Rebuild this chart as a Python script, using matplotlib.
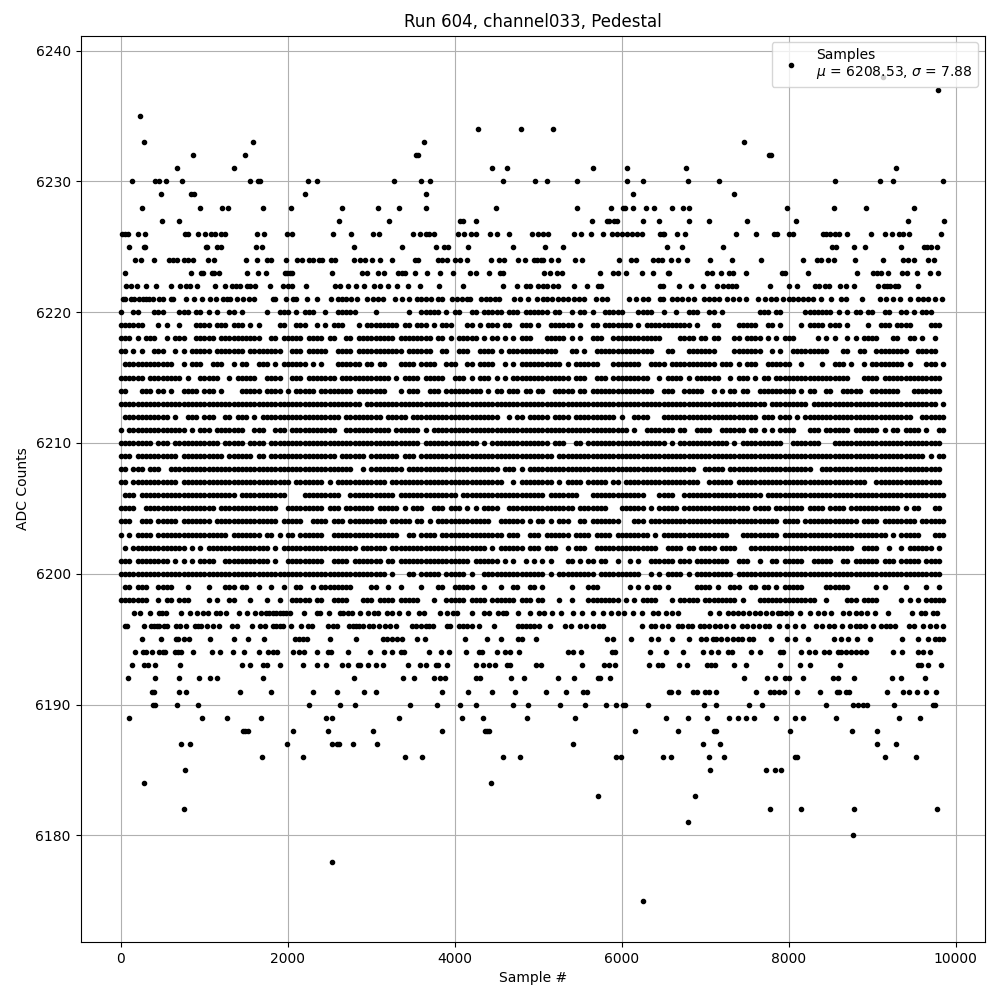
import matplotlib
matplotlib.use("Agg")
import matplotlib.pyplot as plt

TITLE = "Run 604, channel033, Pedestal"
XLABEL = "Sample #"
YLABEL = "ADC Counts"
LEGEND = "Samples\n$\\mu$ = 6208.53, $\\sigma$ = 7.88"
CELL = 50  # samples per character in the occupancy rows below

# Sparse levels: sample numbers, per ADC level
sparse_high = {
    6238: [9128],
    6237: [9788],
    6235: [224],
    6234: [4272, 4788, 5172],
    6233: [272, 1580, 3636, 7460],
    6232: [860, 1484, 3540, 3564, 7760, 7784],
    6231: [668, 1352, 4440, 4620, 5652, 6060, 6764, 9284],
    6230: [128, 404, 452, 536, 728, 1544, 1640, 1664, 2240, 2348, 3276, 3600, 3708, 4572, 4956, 5100, 5460, 6060, 6252, 6788, 7160, 8552, 9092, 9248, 9848],
    6229: [476, 836, 872, 2204, 3660, 6132, 7340],
    6228: [248, 944, 1208, 1280, 1700, 2036, 2648, 3080, 3336, 3660, 4488, 5460, 5868, 6012, 6036, 6132, 6288, 6384, 6596, 6728, 6800, 7976, 8540, 8924, 9500],
    6227: [488, 692, 2612, 3216, 4068, 4092, 4248, 5640, 5820, 5850, 5910, 5940, 6252, 6444, 6800, 7040, 7496, 8084, 9428, 9860],
    6226: [8, 44, 80, 200, 284, 764, 800, 920, 1004, 1076, 1124, 1196, 1244, 1628, 1712, 1988, 2048, 2540, 2756, 3020, 3092, 3504, 3588, 3660, 3692, 3756, 4044, 4104, 4188, 4248, 4416, 4500, 4644, 4920, 4992, 5052, 5112, 5424, 5508, 5628, 5772, 5880, 5940, 6000, 6060, 6120, 6180, 6240, 6456, 6492, 6510, 6656, 6752, 7364, 7604, 7820, 7856, 8000, 8048, 8408, 8450, 8500, 8550, 8608, 8696, 8984, 9152, 9236, 9320, 9368, 9440, 9824],
    6225: [92, 272, 284, 1016, 1028, 1148, 1196, 1616, 1688, 2792, 3372, 3780, 3876, 3924, 4152, 4692, 5076, 5292, 6536, 6716, 7208, 8516, 8564, 8780, 8912, 9344, 9620, 9660, 9700, 9776],
    6224: [164, 236, 392, 572, 620, 668, 752, 800, 860, 1040, 1112, 1496, 1628, 1748, 1796, 1972, 2108, 2168, 2252, 2300, 2372, 2408, 2516, 2564, 2792, 2864, 2924, 3008, 3104, 3252, 3528, 3564, 3804, 3852, 3912, 4008, 4068, 4140, 4428, 4524, 4592, 4752, 4836, 4944, 4980, 5030, 5052, 5148, 5232, 5436, 5520, 5964, 6108, 6168, 6372, 6432, 6480, 6584, 6668, 6776, 7052, 7316, 7664, 8168, 8336, 8384, 8468, 8540, 8792, 9128, 9368, 9428, 9500, 9668, 9740],
    6223: [44, 836, 956, 980, 1088, 1112, 1172, 1508, 1640, 1736, 1964, 1990, 2020, 2048, 2528, 2888, 2948, 3080, 3156, 3324, 3372, 3408, 3528, 3672, 3828, 3984, 4176, 4248, 4404, 4536, 4572, 5064, 5140, 5220, 5280, 5736, 5892, 5952, 6048, 6240, 6372, 6552, 6560, 7016, 7076, 7184, 7280, 7328, 7484, 7916, 7952, 8228, 8816, 9008, 9060, 9100, 9190, 9356, 9416, 9536, 9692, 9788],
    6222: [56, 116, 188, 296, 416, 596, 704, 776, 824, 908, 1124, 1244, 1328, 1376, 1424, 1508, 1552, 1604, 1784, 1940, 2000, 2048, 2216, 2564, 2620, 2720, 2816, 2912, 3032, 3104, 3204, 3312, 3444, 3588, 3816, 4092, 4572, 4740, 4848, 4896, 4992, 5052, 5100, 5172, 5232, 5424, 5580, 5712, 5748, 6452, 6492, 6680, 6824, 6968, 7136, 7208, 7270, 7320, 7368, 7772, 8000, 8096, 8312, 8360, 8432, 8488, 8612, 8684, 8780, 9068, 9140, 9176, 9208, 9270, 9308, 9548],
    6221: [20, 44, 116, 152, 212, 260, 300, 340, 380, 452, 500, 596, 620, 776, 872, 968, 1064, 1136, 1220, 1270, 1304, 1388, 1460, 1532, 1592, 1820, 1844, 1976, 2060, 2096, 2228, 2348, 2516, 2600, 2650, 2700, 2760, 2828, 2948, 3020, 3080, 3144, 3288, 3372, 3452, 3552, 3600, 3660, 3720, 3800, 3852, 3972, 4030, 4090, 4150, 4180, 4316, 4370, 4420, 4480, 4532, 4704, 4776, 4872, 4980, 5052, 5110, 5170, 5230, 5290, 5352, 5424, 5492, 5552, 5692, 5768, 5820, 6092, 6172, 6252, 6312, 6452, 6492, 6596, 6660, 6720, 6788, 6868, 6988, 7040, 7100, 7168, 7260, 7330, 7400, 7488, 7628, 7720, 7790, 7848, 7928, 8000, 8048, 8108, 8168, 8230, 8288, 8388, 8504, 8628, 8688, 8876, 9092, 9168, 9248, 9328, 9448, 9548, 9610, 9670, 9748, 9840],
}

sparse_low = {
    6197: [152, 224, 344, 452, 488, 536, 716, 824, 908, 980, 1040, 1136, 1184, 1256, 1412, 1508, 1604, 1676, 1740, 1780, 1820, 1860, 1900, 1940, 1980, 2020, 2192, 2348, 2384, 2492, 2620, 2660, 2720, 2768, 2864, 2960, 3032, 3080, 3188, 3252, 3332, 3444, 3572, 3632, 3828, 3912, 3980, 4032, 4200, 4344, 4412, 4512, 4572, 4612, 4760, 4896, 5004, 5064, 5160, 5268, 5420, 5520, 5652, 5772, 5872, 5950, 6030, 6132, 6240, 6372, 6432, 6528, 6600, 6672, 7052, 7160, 7268, 7328, 7388, 7448, 7528, 7600, 7660, 7730, 7800, 7868, 7908, 7968, 8028, 8136, 8252, 8348, 8420, 8508, 8648, 8720, 8808, 8870, 8936, 9032, 9188, 9472, 9588, 9628, 9728, 9776],
    6196: [44, 68, 272, 356, 392, 428, 452, 512, 548, 656, 704, 776, 884, 920, 956, 1028, 1100, 1172, 1328, 1388, 1568, 1664, 1724, 1820, 1860, 1900, 1940, 2036, 2156, 2240, 2288, 2480, 2540, 2588, 2732, 2780, 2820, 2852, 2900, 2972, 3020, 3092, 3164, 3220, 3300, 3492, 3540, 3600, 3660, 3692, 3744, 3912, 3948, 4052, 4100, 4150, 4200, 4292, 4464, 4752, 4800, 4850, 4900, 4950, 5012, 5144, 5316, 5388, 5496, 5572, 5652, 5732, 5772, 6240, 6352, 6400, 6476, 6548, 6668, 6720, 6788, 6836, 6936, 6990, 7048, 7120, 7180, 7248, 7328, 7440, 7500, 7568, 7648, 7710, 7768, 7880, 7976, 8080, 8168, 8328, 8400, 8488, 8540, 8636, 8736, 8800, 8848, 8908, 9008, 9108, 9168, 9208, 9276, 9440, 9500, 9608, 9688, 9770, 9848],
    6195: [252, 476, 656, 680, 752, 812, 1072, 1352, 1520, 1712, 2084, 2132, 2180, 2228, 2504, 2816, 3140, 3188, 3252, 3312, 3372, 3552, 3648, 4116, 4380, 4548, 4752, 4800, 4968, 5820, 5892, 6108, 6348, 6432, 6596, 6800, 6952, 7008, 7088, 7130, 7188, 7256, 7328, 7388, 7440, 7520, 7568, 7784, 7976, 8072, 8228, 8540, 8624, 8708, 8816, 8972, 9356, 9548, 9668, 9748, 9800, 9848],
    6194: [164, 260, 296, 368, 452, 500, 524, 644, 680, 716, 860, 1088, 1184, 1348, 1472, 1652, 1760, 1820, 1868, 2060, 2132, 2192, 2348, 2480, 2516, 2720, 2984, 3156, 3252, 3360, 3396, 3696, 3840, 3936, 4128, 4284, 4320, 4500, 4596, 4656, 4764, 5352, 5412, 5508, 5880, 5916, 6336, 6524, 6728, 6968, 7064, 7148, 7268, 7316, 7544, 7652, 7892, 7928, 8144, 8240, 8312, 8428, 8488, 8588, 8630, 8688, 8744, 8808, 8864, 8924, 9248, 9356, 9548, 9608, 9692],
    6193: [128, 272, 320, 404, 704, 1448, 1544, 1700, 1748, 1904, 2180, 2348, 2456, 2648, 2720, 2840, 2864, 2960, 3056, 3144, 3444, 3588, 3660, 3780, 3804, 3912, 4248, 4332, 4404, 4476, 4620, 4656, 4968, 5028, 5520, 5784, 5844, 5916, 6324, 6432, 6480, 6680, 6776, 7016, 7064, 7112, 7340, 7484, 7892, 8132, 8252, 8612, 9548, 9584, 9668, 9824],
    6192: [80, 404, 692, 932, 1064, 1148, 1700, 2792, 3384, 3516, 3756, 3828, 3888, 4248, 4296, 4668, 4824, 5232, 5424, 5712, 5736, 5856, 7460, 7736, 7832, 7952, 8000, 8168, 8528, 8588, 8780, 9236, 9344, 9632],
    6191: [368, 392, 692, 776, 1424, 1796, 2300, 2588, 2912, 3056, 3852, 4152, 4440, 4716, 5088, 5328, 5532, 5580, 6564, 6584, 6668, 6848, 6896, 6992, 7040, 7124, 7604, 7772, 7828, 7880, 7940, 8096, 8372, 8576, 8600, 8688, 8720, 9176, 9368, 9440, 9536, 9644, 9764],
    6190: [388, 412, 668, 920, 2252, 2624, 2804, 3468, 3792, 4068, 4248, 4692, 4872, 5256, 5556, 5808, 5928, 6012, 6044, 6312, 6980, 7124, 7520, 7676, 8444, 8768, 8828, 8888, 8936, 9260, 9728, 9752],
    6189: [92, 968, 1268, 1676, 2460, 2528, 3336, 4080, 4332, 4860, 5436, 6528, 6788, 7016, 7280, 7388, 7484, 7580, 7844, 8072, 8168, 8564, 9320, 9572],
    6188: [1460, 1492, 1520, 2060, 2480, 3020, 3852, 4356, 4380, 4404, 6156, 6668, 7100, 7124, 8012, 8756, 9056],
    6187: [716, 824, 1988, 2528, 2590, 2610, 2780, 3068, 5412, 6968, 7172, 9056, 9284],
    6186: [1688, 2180, 3408, 3612, 4572, 4776, 5928, 5992, 6488, 6584, 7040, 7220, 8072, 8096, 9152, 9524],
    6185: [764, 7052, 7724, 7832, 7904],
    6184: [272, 4428],
    6183: [5712, 6872],
    6182: [752, 7772, 8144, 8780, 9776],
    6181: [6788],
    6180: [8768],
    6178: [2524],
    6175: [6252],
}

# Dense levels: each character is one 50-sample cell, '#' where the row shows a dot
dense_rows = {
    6220: "#..##...## #...###.## .#.#..##.# .....#..## #.#.###..# ..#####... .#.......# ..#####.#. ##..##.### ##.###.### ###.##..#. ##.#..#### #...####.. #..#..###. .##.#..... ...###.##. ....###### #.#.#.##.# #..##..##. #.###.....",
    6219: "######...# .#..#...## ##.###.### .#.#....## ..###..#.# .###...#.# #######.## .###.#.### ...##.#.## #.##..###. #..######. #..##.#### ###.#.#### #######.#. ..##....## ###..##.#. ...#.####. ###.#....# ..###.#### ....###...",
    6218: "###.#.###. .#.###..## ###.###### ####..##.# ####.####. ##..##.### ######.### #####.##.# .#####.#.# #.#.#.###. ..#####.#. #..###..## ########## ....####.# #.##...##. ####.#.#.# ##.....#.# .#..#.#.## ##...##..# #.#..#....",
    6217: "##.#.#..## #..#.#.### ##.####### .########. .###.##### ..####.### ########.# #####..##. .###..#### .#.####### #####...## .#..###### ########.. .##...#### ###....### ####..#.#. .######### ...##..##. .########. .#####....",
    6216: ".######### ###..#.### ..###..#.# #..###.#.# #####.#.#. ..######.# #.##...### #.####..## #..##.#### ..#.#.#### ######.#.# #####...## #####..### #.######## ###.###.#. ###..##### #..#....#. .###.#..#. ########.# ...###.#..",
    6215: "######.### #####.#..# ####..#.## ###..####. .###.##### ##.####### #####.#.## ##.#####.. ###.#.###. #.#.###### ########.# ##..###.## #######..# .####.#.## ####..#.## #.#.##.### ########## #####...## ##.####### #######...",
    6214: "##...###.# #.#..####. ###.#....# ####.####. #.#####.## ######.### ####...#.# ##..###.## #######.#. ##.###.##. ##..#####. ##.####### ########.. ###..##### ..#.#.##.# #..####### ##.#.##..# #..#####.. #######... #######...",
    6213: "########## ########## ########## ########## ########## ########.# ########## ########## ########## ########## ########## ########## ########## ########## ########## #####.#### #####.#### ########## ########## ######.#..",
    6212: ".######### ##.#..###. ###..##.## #.#.###### ########## ###.###### ###.#####. ########## ########## #..#.##.## ###.####.# #########. #..####... ########## ########## ###.###.## #.#.###### ########## ########## ..######..",
    6211: "#.######## ######.#.# ##.####### ..###..### .######### ##..###### #####.#### ##.#.##### ########## ########## ########## ########## ##.#..#### ###.##..## ##..###### .##.#.#.## ##...###.# #####.#### ##.#.##.## ##.#..##..",
    6210: "########.# ##.####### ####.##### .####.#### ########## ########## ########## ##.####### ######.#.# ########## ###.###..# #.######## ########## #.#.###### ######.#.# #########. .#######.. .######### ########## #######...",
    6209: "###.###### ####.##### #####.#### ##.##.#### ########## ##.######. #######.## #.######## ########## ########## ####.##### ########## ########## ########## ########## ########## ########## ########## ########## ###.#.##..",
    6208: "##.###.### ..######## ########## ########## ########## ######..#. ########.# ########## ########## #.###.#.## ########## ########## ########## ########.. #####.#### ########## ######..## ########## ########## #######...",
    6207: "##.####### ####.##### ########## ########## #.#######. #.######## ####.##### ########## ########## ##..#.#### ####.#.### #.#####.## .######### #########. .######.## ########## ########## #########. .######### #######...",
    6206: ".###.##### ########## ########.# ########## ....###### ###..##### ######.### ########## #.######## ########## ##.####### ...####### ######...# ###..##### ########## ####.##### ########## ########## ########## ########..",
    6205: "####..#### ########## ###.###### ########.. #########. ###.###### #.#####.#. ###..###.# ##.#.#.### #..####### #########. #######... ######.#.# ####.##### ########## #.####.### ####.####. ####.##### #######.#. ##...##...",
    6204: "###..###.# ####.##### ##.####### ########.# ####..#### .###.##### ####.##### .##.#.#### #########. .######.#. ##.#.###.. ##.####### ...###.### ########## ########## ########.# ###.###### #######.## ##.####### #.######..",
    6203: "#.#.####.# ########## ######.### ####.##.#. ##.######. .######### #######..# #.####.### ########## ##.###..## #.######.# ###.####.# #######.#. ########## ######...# ########.# ########## ########## ####.#.### ##...###..",
    6202: ".#.####### ######.#.# .######### ######.#.# ########## #######.## ####.##### ########## ########.# .######.## #.###..#.# ##..###### #########. .####.##.# ###.####.. .######### ########## ######..## ##..#..#.# #####.#...",
    6201: "###.###### ##.#.#.#.# ###..##### ######.#.. #########. .####.#### ###.##.### ########## ####.##### #.#.#..#.# .#.#...##. #.##.##..# ..#.#..### ###.###.## ######..## #..#..##.# ####..#### #..##.#### ##.###.### ##.####...",
    6200: "########## ########## ########## ########## ########## ########## ####.#...# #.#####.## ###.#..### ########## ##.#.##### ####.##### #####..#.# .####.#.## #######.## ########## ########## ########## ########## #######...",
    6199: ".##.###..# ###...#... .#...###.# #..#..#..# ..##..#.## ######.... ##..#..#.. ..#...##.. #####..#.. .#..##..## .#......#. ..###..... ..#.#.#.## .#......## ##.#..###. .##.##.#.# ####.....# #####..... .#.#....#. ...#..#...",
    6198: "#######..# .##.###... .#.#..##.. .#...#..#. .#####.##. .####...## #.####.### ##...#..## ###.####.# #####.###. ##...#..#. ..######## .#.#.####. ..#.#####. ########.# ...####### #######..# ....###.## ##.....#.# .#.#####..",
}

# Build one list of (sample, level) pairs from the rows above
samples = []
levels = []
for table in (sparse_high, sparse_low):
    for level, xs in table.items():
        samples.extend(xs)
        levels.extend([level] * len(xs))
for level, row in dense_rows.items():
    for i, ch in enumerate(row.replace(" ", "")):
        if ch == "#":
            samples.append(i * CELL)
            levels.append(level)

fig, ax = plt.subplots(figsize=(10, 10), dpi=100)
ax.plot(samples, levels, ".", color="black", label=LEGEND)
ax.set_title(TITLE)
ax.set_xlabel(XLABEL)
ax.set_ylabel(YLABEL)
ax.set_xlim(-484, 10351)
ax.set_ylim(6171.85, 6241.15)
ax.set_xticks([0, 2000, 4000, 6000, 8000, 10000])
ax.set_yticks([6180, 6190, 6200, 6210, 6220, 6230, 6240])
ax.grid(True)
ax.legend(loc="upper right")
fig.subplots_adjust(left=0.0805, right=0.985, top=0.9645, bottom=0.058)
fig.savefig("out.png", dpi=100)
